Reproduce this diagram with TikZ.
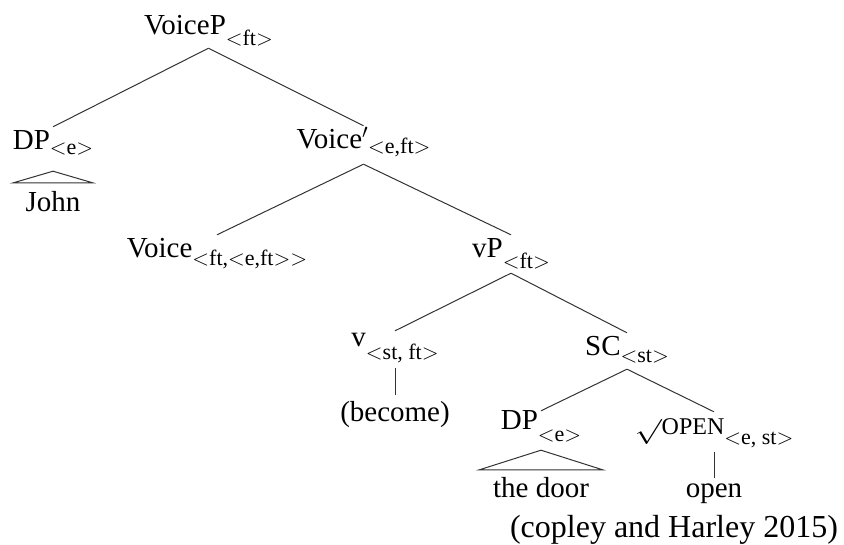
\RequirePackage{fix-cm}
\documentclass[tikz,border=0pt]{standalone}
\usepackage{fontspec}
\setmainfont{Liberation Serif}
\newcommand\lsub[2]{\raisebox{-#1pt}{\fontsize{22}{22}\selectfont$<$#2$>$}}
\tikzset{
  lab/.style={anchor=base, inner sep=0pt, text height=23pt, text depth=13pt, font=\fontsize{29}{34}\selectfont},
  tri/.style={inner xsep=12pt},
  edge/.style={draw=black!80, line width=1pt}
}
\begin{document}
\begin{tikzpicture}[x=1pt,y=-1pt]
\useasboundingbox (0,0) rectangle (844,545);
\node[lab] (vp) at (208.5,35) {VoiceP\lsub{11}{ft}};
\node[lab, text depth=21pt] (dp1) at (53,150) {DP\lsub{5}{e}};
\node[lab, tri, text height=29pt] (john) at (53,212) {John};
\node[lab, text depth=15pt] (vbar) at (363.5,149) {Voice$'$\lsub{5}{e,ft}};
\node[lab] (voice) at (217,258) {Voice\lsub{8}{ft,$<$e,ft$>$}};
\node[lab, text depth=15pt] (vP) at (511,258) {vP\lsub{11}{ft}};
\node[lab, text height=16pt, text depth=21pt] (v) at (395,347) {v\lsub{13}{st, ft}};
\node[lab, text height=26pt] (become) at (395,421) {(become)};
\node[lab] (sc) at (627,356) {SC\lsub{7}{st}};
\node[lab, text height=19pt, text depth=20pt] (dp2) at (541,430) {DP\lsub{12}{e}};
\node[lab, tri, inner xsep=13.5pt, text height=27pt] (door) at (541,497) {the door};
\node[lab, text depth=17pt] (root) at (714,435) {\raisebox{-3pt}{\scalebox{1.3}[1]{\fontsize{25}{25}\selectfont$\surd$}}{\fontsize{24}{24}\selectfont OPEN}\lsub{10}{e, st}};
\node[lab, text height=19pt] (open) at (714,497) {open};
\node[lab, font=\fontsize{32}{36}\selectfont] (cite) at (674,537) {(copley and Harley 2015)};
\draw[edge] (vp.south) -- (dp1.north);
\draw[edge] (vp.south) -- (vbar.north);
\draw[edge] (dp1.south) -- (john.north west) -- (john.north east) -- cycle;
\draw[edge] (vbar.south) -- (voice.north);
\draw[edge] (vbar.south) -- (vP.north);
\draw[edge] (vP.south) -- (v.north);
\draw[edge] (vP.south) -- (sc.north);
\draw[edge] (v.south) -- (become.north);
\draw[edge] (sc.south) -- (dp2.north);
\draw[edge] (sc.south) -- (root.north);
\draw[edge] (dp2.south) -- (door.north west) -- (door.north east) -- cycle;
\draw[edge] (root.south) -- (open.north);
\end{tikzpicture}
\end{document}
